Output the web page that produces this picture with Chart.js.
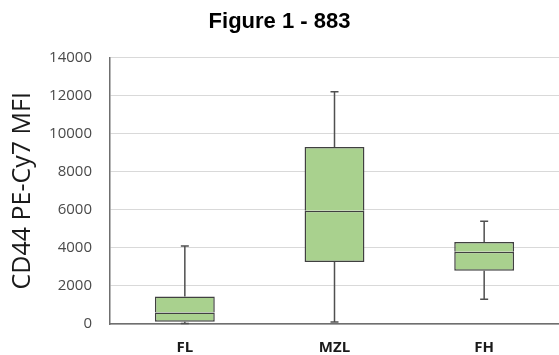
<!DOCTYPE html>
<html>
<head>
<meta charset="utf-8">
<script src="https://cdn.jsdelivr.net/npm/chart.js@4.4.1/dist/chart.umd.min.js"></script>
<style>
  html, body { margin: 0; padding: 0; background: #fff; }
  #wrap { width: 559px; height: 355px; }
</style>
</head>
<body>
<div id="wrap"><canvas id="chart"></canvas></div>
<script>
// box plot values
const categories = ['FL', 'MZL', 'FH'];
const minVals = [30, 100, 1300];
const q1Vals = [120, 3250, 2800];
const medVals = [600, 5950, 3800];
const q3Vals = [1450, 9300, 4300];
const maxVals = [4100, 12200, 5400];

const boxFill = '#a9d18e';
const edge = '#404040';

// lower half and upper half of each box, split at the median
const lowerHalf = categories.map((c, i) => [q1Vals[i], medVals[i]]);
const upperHalf = categories.map((c, i) => [medVals[i], q3Vals[i]]);

// whiskers and caps, placed with the chart's own scales
const whiskers = {
    id: 'whiskers',
    beforeDatasetsDraw(chart) {
        const ctx = chart.ctx;
        const x = chart.scales.x, y = chart.scales.y;
        ctx.save();
        ctx.strokeStyle = '#505050';
        ctx.lineWidth = 1.5;
        categories.forEach((c, i) => {
            const px = x.getPixelForValue(i);
            const segs = [[q3Vals[i], maxVals[i]], [q1Vals[i], minVals[i]]];
            segs.forEach(([from, to]) => {
                ctx.beginPath();
                ctx.moveTo(px, y.getPixelForValue(from));
                ctx.lineTo(px, y.getPixelForValue(to));
                ctx.moveTo(px - 4, y.getPixelForValue(to));
                ctx.lineTo(px + 4, y.getPixelForValue(to));
                ctx.stroke();
            });
        });
        ctx.restore();
    }
};

const boxStyle = {
    backgroundColor: boxFill,
    borderColor: edge,
    borderWidth: 1.5,
    grouped: false,
    barPercentage: 0.4,
    categoryPercentage: 1
};

new Chart(document.getElementById('chart'), {
    type: 'bar',
    data: {
        labels: categories,
        datasets: [
            Object.assign({ label: 'lower', data: lowerHalf }, boxStyle, { borderSkipped: false }),
            Object.assign({ label: 'upper', data: upperHalf }, boxStyle, { borderSkipped: 'bottom' })
        ]
    },
    options: {
        responsive: true,
        maintainAspectRatio: false,
        animation: false,
        layout: { padding: { left: 0, right: 0, top: 0, bottom: 0 } },
        scales: {
            x: {
                grid: { display: false, drawTicks: false },
                border: { color: '#6f6f6f', width: 1.5 },
                ticks: {
                    color: '#1a1a1a',
                    padding: 15,
                    font: { family: 'Open Sans', size: 15, weight: 'bold' }
                },
                afterFit: s => { s.height = 31; }
            },
            y: {
                min: 0,
                max: 14000,
                grid: { color: '#d9d9d9', lineWidth: 1, drawTicks: false },
                border: { color: '#6f6f6f', width: 1.5 },
                ticks: {
                    stepSize: 2000,
                    color: '#4a4a4a',
                    padding: 18,
                    font: { family: 'Open Sans', size: 15 },
                    callback: v => String(v)
                },
                title: {
                    display: true,
                    text: 'CD44 PE-Cy7 MFI',
                    color: '#1a1a1a',
                    padding: { top: 8, bottom: 0 },
                    font: { family: 'Open Sans', size: 25 }
                },
                afterFit: s => { s.width = 110; }
            }
        },
        plugins: {
            legend: { display: false },
            tooltip: { enabled: false },
            title: {
                display: true,
                text: 'Figure 1 - 883',
                color: '#000',
                padding: { top: 9, bottom: 22 },
                font: { family: 'Liberation Sans', size: 22, weight: 'bold' }
            }
        }
    },
    plugins: [whiskers]
});
</script>
</body>
</html>
